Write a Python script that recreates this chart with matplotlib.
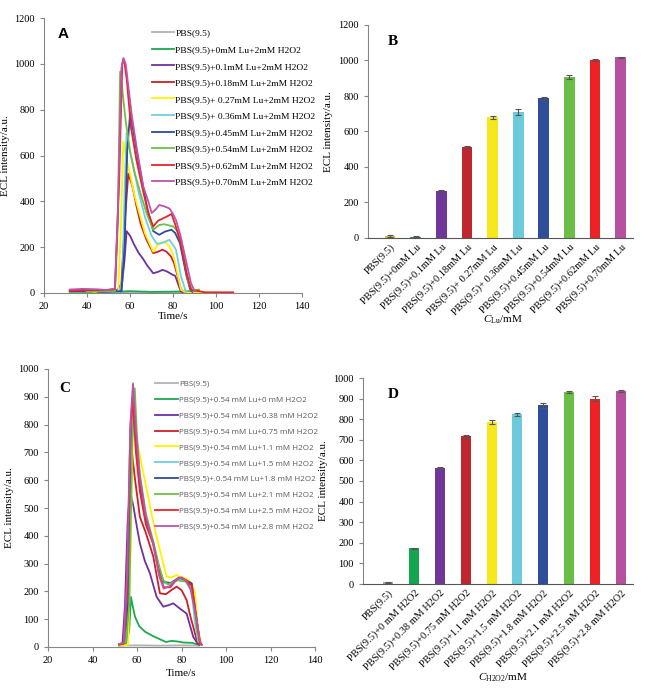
import matplotlib
matplotlib.use("Agg")
import matplotlib.pyplot as plt

# ---------------- Panel A data (time/s, ECL intensity) ----------------
a_labels = ["PBS(9.5)", "PBS(9.5)+0mM Lu+2mM H2O2", "PBS(9.5)+0.1mM Lu+2mM H2O2",
            "PBS(9.5)+0.18mM Lu+2mM H2O2", "PBS(9.5)+ 0.27mM Lu+2mM H2O2",
            "PBS(9.5)+ 0.36mM Lu+2mM H2O2", "PBS(9.5)+0.45mM Lu+2mM H2O2",
            "PBS(9.5)+0.54mM Lu+2mM H2O2", "PBS(9.5)+0.62mM Lu+2mM H2O2",
            "PBS(9.5)+0.70mM Lu+2mM H2O2"]
a_pbs_t = [45, 60, 80, 100]
a_pbs_v = [2, 2, 2, 2]
a_lu0_t = [32, 45, 55, 60, 70, 80, 90, 92]
a_lu0_v = [5, 4, 6, 8, 5, 6, 8, 12]
a_lu01_t = [32, 40, 50, 56, 57.5, 58.4, 60, 62, 64, 66, 68, 70.8, 73, 75.1, 77, 79.7, 81, 82.2, 83.7, 86]
a_lu01_v = [8, 10, 8, 10, 150, 270, 250, 210, 175, 150, 120, 86, 92, 101, 95, 80, 75, 44, 6, 2]
a_lu018_t = [32, 45, 54, 56, 57.5, 59.2, 61, 63, 65, 67.7, 70.8, 73, 75.1, 77, 79, 80.5, 82.2, 83.7, 86]
a_lu018_v = [10, 12, 12, 40, 300, 520, 470, 380, 300, 232, 174, 180, 189, 180, 160, 130, 73, 14, 2]
a_lu027_t = [43, 50, 54.5, 55.8, 56.9, 58, 60, 62, 64, 67, 70.8, 72.5, 74.4, 76, 78.3, 80, 81.4, 83.7, 86, 100]
a_lu027_v = [2, 3, 5, 300, 661, 600, 520, 430, 360, 260, 180, 205, 218, 225, 203, 170, 116, 14, 2, 2]
a_lu036_t = [45, 55, 56.5, 57.5, 58.4, 60, 62, 64, 67, 70, 72.5, 75.1, 78.3, 80, 81.4, 83.7, 86]
a_lu036_v = [3, 5, 60, 450, 697, 620, 530, 440, 330, 250, 215, 218, 232, 210, 189, 73, 5]
a_lu045_t = [45, 56, 57.5, 58.7, 60.1, 62, 64, 66, 68, 70.8, 73.6, 76.3, 79.3, 81, 83.2, 86.3, 88, 89]
a_lu045_v = [3, 8, 200, 620, 790, 680, 570, 470, 370, 270, 254, 268, 276, 262, 218, 73, 15, 5]
a_lu054_t = [40, 53, 54.3, 55.4, 56.5, 58, 60, 62, 65, 68, 70.8, 73.6, 76, 80.2, 82, 84.1, 87.2, 89, 92]
a_lu054_v = [5, 8, 300, 966, 880, 750, 620, 530, 430, 340, 276, 297, 300, 290, 270, 204, 44, 10, 15]
a_lu062_t = [32, 40, 48, 53, 55, 56.4, 57.2, 58.5, 60.5, 63, 66.2, 68.5, 70.8, 73, 77, 79.3, 81, 83.2, 86.3, 88.4, 95, 108]
a_lu062_v = [12, 14, 12, 18, 500, 1000, 1020, 930, 720, 580, 440, 350, 290, 315, 333, 345, 300, 233, 87, 14, 3, 3]
a_lu070_t = [32, 38, 45, 50, 53, 54.5, 56, 56.9, 58, 59.5, 60.9, 63.2, 66.2, 68.5, 70.1, 72, 73.6, 76, 78.3, 80, 81.4, 83.5, 85.3, 88.4, 90]
a_lu070_v = [15, 18, 16, 12, 20, 400, 980, 1025, 1000, 880, 770, 628, 464, 400, 349, 365, 384, 378, 369, 345, 318, 250, 172, 41, 10]

# ---------------- Panel B data ----------------
b_labels = ["PBS(9.5)", "PBS(9.5)+0mM Lu", "PBS(9.5)+0.1mM Lu", "PBS(9.5)+0.18mM Lu",
            "PBS(9.5)+ 0.27mM Lu", "PBS(9.5)+ 0.36mM Lu", "PBS(9.5)+0.45mM Lu",
            "PBS(9.5)+0.54mM Lu", "PBS(9.5)+0.62mM Lu", "PBS(9.5)+0.70mM Lu"]
b_values = [10, 8, 265, 512, 680, 710, 787, 908, 1003, 1018]
b_errors = [5, 3, 4, 4, 9, 16, 9, 13, 4, 3]

# ---------------- Panel C data ----------------
c_labels = ["PBS(9.5)", "PBS(9.5)+0.54 mM Lu+0 mM H2O2", "PBS(9.5)+0.54 mM Lu+0.38 mM H2O2",
            "PBS(9.5)+0.54 mM Lu+0.75 mM H2O2", "PBS(9.5)+0.54 mM Lu+1.1 mM H2O2",
            "PBS(9.5)+0.54 mM Lu+1.5 mM H2O2", "PBS(9.5)+.0.54 mM Lu+1.8 mM H2O2",
            "PBS(9.5)+0.54 mM Lu+2.1 mM H2O2", "PBS(9.5)+0.54 mM Lu+2.5 mM H2O2",
            "PBS(9.5)+0.54 mM Lu+2.8 mM H2O2"]
c_pbs_t = [52, 60, 70, 80, 88]
c_pbs_v = [5, 6, 5, 6, 5]
c_h0_t = [52, 55, 56.5, 57.3, 58, 59.1, 61, 63.6, 67, 71.1, 73, 75.6, 78, 81, 84.6, 88]
c_h0_v = [5, 8, 60, 180, 150, 109, 75, 55, 40, 25, 18, 22, 20, 16, 15, 8]
c_h038_t = [52, 53.5, 54.6, 55.8, 56.9, 58.5, 60, 61.3, 63.5, 65.8, 68.8, 71.8, 74, 76.3, 79, 82.3, 85.3, 87, 88]
c_h038_v = [10, 15, 150, 450, 565, 500, 430, 373, 310, 265, 181, 145, 150, 157, 140, 120, 36, 15, 8]
c_h075_t = [52, 54, 55.5, 56.5, 57.5, 59, 61.3, 64, 67.3, 70.3, 73, 75.5, 77.8, 80, 82.3, 84, 85.3, 87, 88]
c_h075_v = [8, 12, 150, 550, 720, 610, 468, 410, 326, 193, 190, 205, 217, 205, 169, 110, 72, 20, 10]
c_h11_t = [52, 56, 57, 58.2, 59.5, 61.5, 64.4, 66.5, 68.8, 71.8, 73.3, 75.5, 77.8, 80, 82.3, 84.5, 86.1, 87.5, 89]
c_h11_v = [5, 8, 300, 790, 760, 680, 565, 480, 397, 301, 253, 250, 259, 250, 247, 230, 193, 60, 10]
c_h15_t = [52, 55, 56.3, 57.5, 58.5, 60, 61.3, 64, 67.3, 70, 72, 75, 79, 82, 84.6, 86, 87.5, 89]
c_h15_v = [10, 15, 200, 700, 822, 700, 580, 450, 374, 280, 230, 225, 245, 235, 200, 90, 20, 8]
c_h18_t = [52, 55, 56.3, 57.5, 58.5, 60, 61.3, 64, 67.3, 70, 72, 75, 79, 82, 84.6, 86.8, 88.3, 89]
c_h18_v = [10, 15, 200, 750, 867, 720, 590, 460, 374, 280, 235, 230, 250, 240, 229, 97, 14, 8]
c_h21_t = [52, 55, 56.5, 58, 59, 60, 61.3, 64, 67.3, 70, 71.8, 74, 78, 82, 85, 87, 88.3, 89]
c_h21_v = [10, 15, 150, 800, 930, 760, 620, 480, 380, 290, 240, 225, 240, 235, 200, 60, 14, 8]
c_h25_t = [52, 54, 55.5, 57, 58, 59.5, 61.3, 64, 67.3, 70, 72, 75, 78, 80, 82, 84.6, 86.8, 88.3, 89]
c_h25_v = [8, 12, 200, 780, 900, 700, 560, 440, 370, 260, 215, 215, 245, 250, 240, 220, 97, 14, 8]
c_h28_t = [52, 54, 55.5, 57, 58.2, 59.5, 61.3, 64, 67.3, 70, 72, 75, 78, 80, 82, 84, 86.8, 88.3, 89]
c_h28_v = [10, 15, 250, 800, 948, 780, 610, 470, 370, 255, 210, 220, 245, 250, 240, 210, 100, 20, 10]

# ---------------- Panel D data ----------------
d_labels = ["PBS(9.5)", "PBS(9.5)+0 mM H2O2", "PBS(9.5)+0.38 mM H2O2", "PBS(9.5)+0.75 mM H2O2",
            "PBS(9.5)+1.1 mM H2O2", "PBS(9.5)+1.5 mM H2O2", "PBS(9.5)+1.8 mM H2O2",
            "PBS(9.5)+2.1 mM H2O2", "PBS(9.5)+2.5 mM H2O2", "PBS(9.5)+2.8 mM H2O2"]
d_values = [8, 173, 565, 718, 787, 823, 867, 932, 900, 936]
d_errors = [4, 3, 3, 7, 10, 9, 11, 4, 13, 4]

# ---------------- styles ----------------
line_colors = ["#B3B3B3", "#1FA84F", "#7030A0", "#CC1F27", "#FFF200",
               "#6FCFE3", "#2F4A9E", "#72BE44", "#E8242A", "#BF52AA"]
b_colors = ["#D2BE3C", "#2F8F5F", "#70379A", "#C0262D", "#F7E81C",
            "#6CCADA", "#2F4D9B", "#6BBE45", "#EC2227", "#B5519F"]
d_colors = ["#A6A6A6", "#13A550", "#70379A", "#C0262D", "#F7E81C",
            "#6CCADA", "#2F4D9B", "#6BBE45", "#EC2227", "#B5519F"]

serif = "Liberation Serif"
plt.rcParams["font.family"] = serif
plt.rcParams["mathtext.fontset"] = "custom"
plt.rcParams["mathtext.rm"] = serif
plt.rcParams["mathtext.it"] = serif + ":italic"

W, H = 646, 699
fig = plt.figure(figsize=(W / 100, H / 100), dpi=100)


def px_axes(left, top, right, bottom):
    return fig.add_axes([left / W, 1 - bottom / H, (right - left) / W, (bottom - top) / H])


SPINE = "#868686"


def style(ax):
    for s in ["top", "right"]:
        ax.spines[s].set_visible(False)
    for s in ["left", "bottom"]:
        ax.spines[s].set_color(SPINE)
        ax.spines[s].set_linewidth(0.8)
    ax.tick_params(colors=SPINE, labelcolor="black", labelsize=7.5, length=3, width=0.8)


# ---------------- Panel A ----------------
axA = px_axes(44, 18, 302, 293)
a_series = [(a_pbs_t, a_pbs_v), (a_lu0_t, a_lu0_v), (a_lu01_t, a_lu01_v), (a_lu018_t, a_lu018_v),
            (a_lu027_t, a_lu027_v), (a_lu036_t, a_lu036_v), (a_lu045_t, a_lu045_v),
            (a_lu054_t, a_lu054_v), (a_lu062_t, a_lu062_v), (a_lu070_t, a_lu070_v)]
for (t, v), c, lab in zip(a_series, line_colors, a_labels):
    axA.plot(t, v, color=c, lw=1.3, label=lab)
axA.set_xlim(20, 140)
axA.set_ylim(0, 1200)
axA.set_xticks(range(20, 141, 20))
axA.set_yticks(range(0, 1201, 200))
style(axA)
axA.set_xlabel("Time/s", fontsize=8, labelpad=1)
axA.set_ylabel("ECL intensity/a.u.", fontsize=8, labelpad=3)
fig.text(58 / W, 1 - 38 / H, "A", fontsize=11, fontweight="bold", family="Liberation Sans")
legA = axA.legend(loc="upper left", bbox_to_anchor=(0.42, 0.96), frameon=False, fontsize=6.8,
                  handlelength=2.3, handletextpad=0.15, labelspacing=0.84, borderaxespad=0, borderpad=0)

# ---------------- Panel B ----------------
axB = px_axes(368, 25, 633, 238)
xb = list(range(len(b_values)))
axB.bar(xb, b_values, width=0.42, color=b_colors, yerr=b_errors,
        error_kw=dict(ecolor="#555555", elinewidth=0.8, capsize=2.5, capthick=0.8))
axB.set_xlim(-0.86, 9.48)
axB.set_ylim(0, 1200)
axB.set_yticks(range(0, 1201, 200))
axB.set_xticks(xb)
axB.set_xticklabels(b_labels, rotation=45, ha="right", rotation_mode="anchor", fontsize=6.8)
style(axB)
axB.tick_params(axis="x", length=0, pad=3)
axB.spines["bottom"].set_color("#555555")
axB.set_xlabel(r"$\mathit{C}_{\mathrm{Lu}}$/mM", fontsize=8)
axB.xaxis.set_label_coords((503 - 368) / 265, -(314 - 238) / 213)
axB.set_ylabel("ECL intensity/a.u.", fontsize=8, labelpad=4)
fig.text(388 / W, 1 - 45 / H, "B", fontsize=11, fontweight="bold")

# ---------------- Panel C ----------------
axC = px_axes(48, 369, 315, 647)
c_series = [(c_pbs_t, c_pbs_v), (c_h0_t, c_h0_v), (c_h038_t, c_h038_v), (c_h075_t, c_h075_v),
            (c_h11_t, c_h11_v), (c_h15_t, c_h15_v), (c_h18_t, c_h18_v), (c_h21_t, c_h21_v),
            (c_h25_t, c_h25_v), (c_h28_t, c_h28_v)]
for (t, v), c, lab in zip(c_series, line_colors, c_labels):
    axC.plot(t, v, color=c, lw=1.3, label=lab)
axC.set_xlim(20, 140)
axC.set_ylim(0, 1000)
axC.set_xticks(range(20, 141, 20))
axC.set_yticks(range(0, 1001, 100))
style(axC)
axC.set_xlabel("Time/s", fontsize=8, labelpad=3)
axC.set_ylabel("ECL intensity/a.u.", fontsize=8, labelpad=3)
fig.text(59 / W, 1 - 392 / H, "C", fontsize=11, fontweight="bold")
legC = axC.legend(loc="upper left", bbox_to_anchor=(0.40, 0.96), frameon=False,
                  prop={"family": "Open Sans", "size": 5.8},
                  handlelength=2.85, handletextpad=0.15, labelspacing=1.02, borderaxespad=0, borderpad=0)
for txt in legC.get_texts():
    txt.set_color("#595959")

# ---------------- Panel D ----------------
axD = px_axes(363, 378, 633, 584)
xd = list(range(len(d_values)))
axD.bar(xd, d_values, width=0.39, color=d_colors, yerr=d_errors,
        error_kw=dict(ecolor="#555555", elinewidth=0.8, capsize=2.5, capthick=0.8))
axD.set_xlim(-0.98, 9.48)
axD.set_ylim(0, 1000)
axD.set_yticks(range(0, 1001, 100))
axD.set_xticks(xd)
axD.set_xticklabels(d_labels, rotation=45, ha="right", rotation_mode="anchor", fontsize=6.6)
style(axD)
axD.tick_params(axis="x", length=0, pad=3)
axD.spines["bottom"].set_color("#555555")
axD.set_xlabel(r"$\mathit{C}_{\mathrm{H2O2}}$/mM", fontsize=8)
axD.xaxis.set_label_coords((503 - 363) / 270, -(672 - 584) / 206)
axD.set_ylabel("ECL intensity/a.u.", fontsize=8, labelpad=4)
fig.text(388 / W, 1 - 398 / H, "D", fontsize=11, fontweight="bold")

fig.savefig("out.png", dpi=100)
